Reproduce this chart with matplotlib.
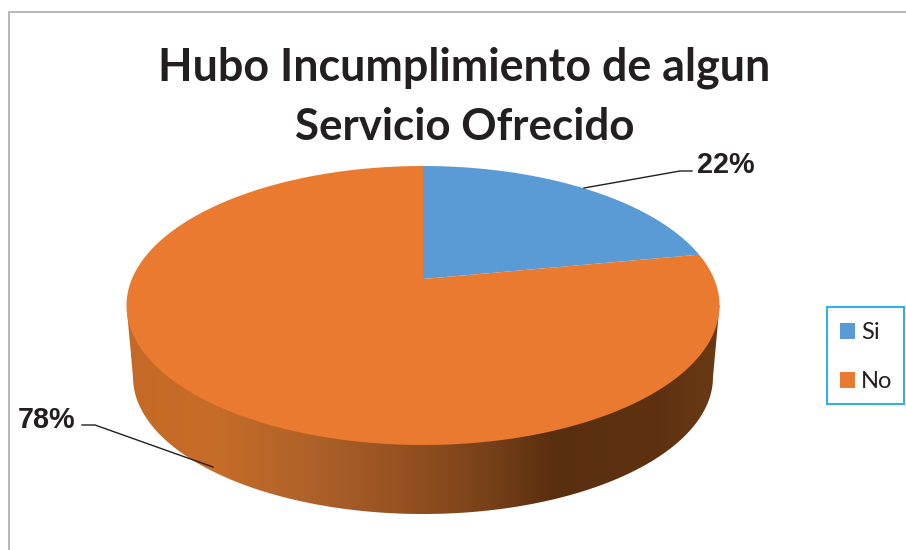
import numpy as np
import matplotlib
matplotlib.use('Agg')
import matplotlib.pyplot as plt
from matplotlib.colors import LinearSegmentedColormap
from matplotlib.patches import Patch, Polygon, Rectangle

labels = ['Si', 'No']
values = [22, 78]
pct_labels = ['22%', '78%']

BLUE = '#5b9bd5'
ORANGE = '#e97a2f'
TEXT = '#231f20'

W, H = 906, 550
fig = plt.figure(figsize=(W / 100, H / 100), dpi=100, facecolor='white')

# unit circle is stretched to the ellipse of the top face
cx, cy, rx, ry = 423, 305.5, 296.5, 139.5
tilt = 0.19  # perspective: the pie centre sits above the middle of the ellipse
ax = fig.add_axes([0, 0, 1, 1])


def perspective(angle):
    x, y = np.sin(angle), np.cos(angle)
    d = 1 + tilt * y
    return x * np.sqrt(1 - tilt ** 2) / d, (y + tilt) / d


# top face slices, clockwise from twelve o'clock
edges = np.cumsum([0] + values) / np.sum(values) * 2 * np.pi
for start, end, color in zip(edges[:-1], edges[1:], [BLUE, ORANGE]):
    px, py = perspective(np.linspace(start, end, 300))
    ax.fill(np.r_[0, px], np.r_[tilt, py], color=color, lw=0, zorder=3)

# side wall, gradient clipped to the outline of the lower rim
t = np.linspace(np.pi, 2 * np.pi, 200)
low_r = 290 / rx
low_ry = 137 / ry
low_cy = -71.5 / ry
outline = np.column_stack([low_r * np.cos(t), low_cy + low_ry * np.sin(t)])
outline = np.vstack([[-1, 0], outline, [1, 0]])
wall = Polygon(outline, closed=True, transform=ax.transData, facecolor='none', edgecolor='none')
ax.add_patch(wall)
wall_cmap = LinearSegmentedColormap.from_list('wall', [
    (0.00, '#c46a26'), (0.14, '#c76d28'), (0.30, '#b0622a'), (0.50, '#8f4e20'),
    (0.62, '#753f18'), (0.72, '#5a2f10'), (0.90, '#5e3211'), (1.00, '#6a3a14')])
grad = np.linspace(0, 1, 256).reshape(1, -1)
im = ax.imshow(grad, cmap=wall_cmap, extent=(-1, 1, -1.7, 0.1), aspect='auto', zorder=2)
im.set_clip_path(wall)

ax.set_aspect('auto')
ax.set_xlim((0 - cx) / rx, (W - cx) / rx)
ax.set_ylim((cy - H) / ry, (cy - 0) / ry)
ax.axis('off')

# overlay in pixel coordinates for frame, title and labels
ov = fig.add_axes([0, 0, 1, 1], facecolor='none')
ov.set_xlim(0, W)
ov.set_ylim(H, 0)
ov.axis('off')

ov.plot([9, 9, W], [H, 12, 12], color='#b8b8b8', lw=1.4, solid_joinstyle='miter')

ov.text(464.5, 68, 'Hubo Incumplimiento de algun', family='Lato', weight='bold', fontsize=32.3,
        color=TEXT, ha='center', va='center')
ov.text(464.5, 127, 'Servicio Ofrecido', family='Lato', weight='bold', fontsize=31.6,
        color=TEXT, ha='center', va='center')

ov.plot([584, 680, 692], [188, 171, 171], color=TEXT, lw=1)
ov.plot([82, 95, 213], [425, 425, 467], color=TEXT, lw=1)
ov.text(697, 165, pct_labels[0], family='Liberation Sans', weight='bold', fontsize=20.7,
        color=TEXT, ha='left', va='center')
ov.text(18, 420, pct_labels[1], family='Liberation Sans', weight='bold', fontsize=20.7,
        color=TEXT, ha='left', va='center')

# legend box drawn apart so its width can be kept inside the figure
ov.add_patch(Rectangle((827, 307), 77, 97, facecolor='white', edgecolor='#33b1e4', lw=1.5, zorder=4))
handles = [Patch(color=BLUE, lw=0), Patch(color=ORANGE, lw=0)]
leg = fig.legend(handles, labels, loc='upper left', bbox_to_anchor=(826.5 / W, 1 - 308.5 / H),
                 borderaxespad=0, frameon=False,
                 prop={'family': 'Lato', 'size': 17}, labelcolor=TEXT,
                 handlelength=0.64, handleheight=0.64, handletextpad=0.25,
                 labelspacing=1.18, borderpad=0.58)

fig.savefig('out.png', dpi=100)
